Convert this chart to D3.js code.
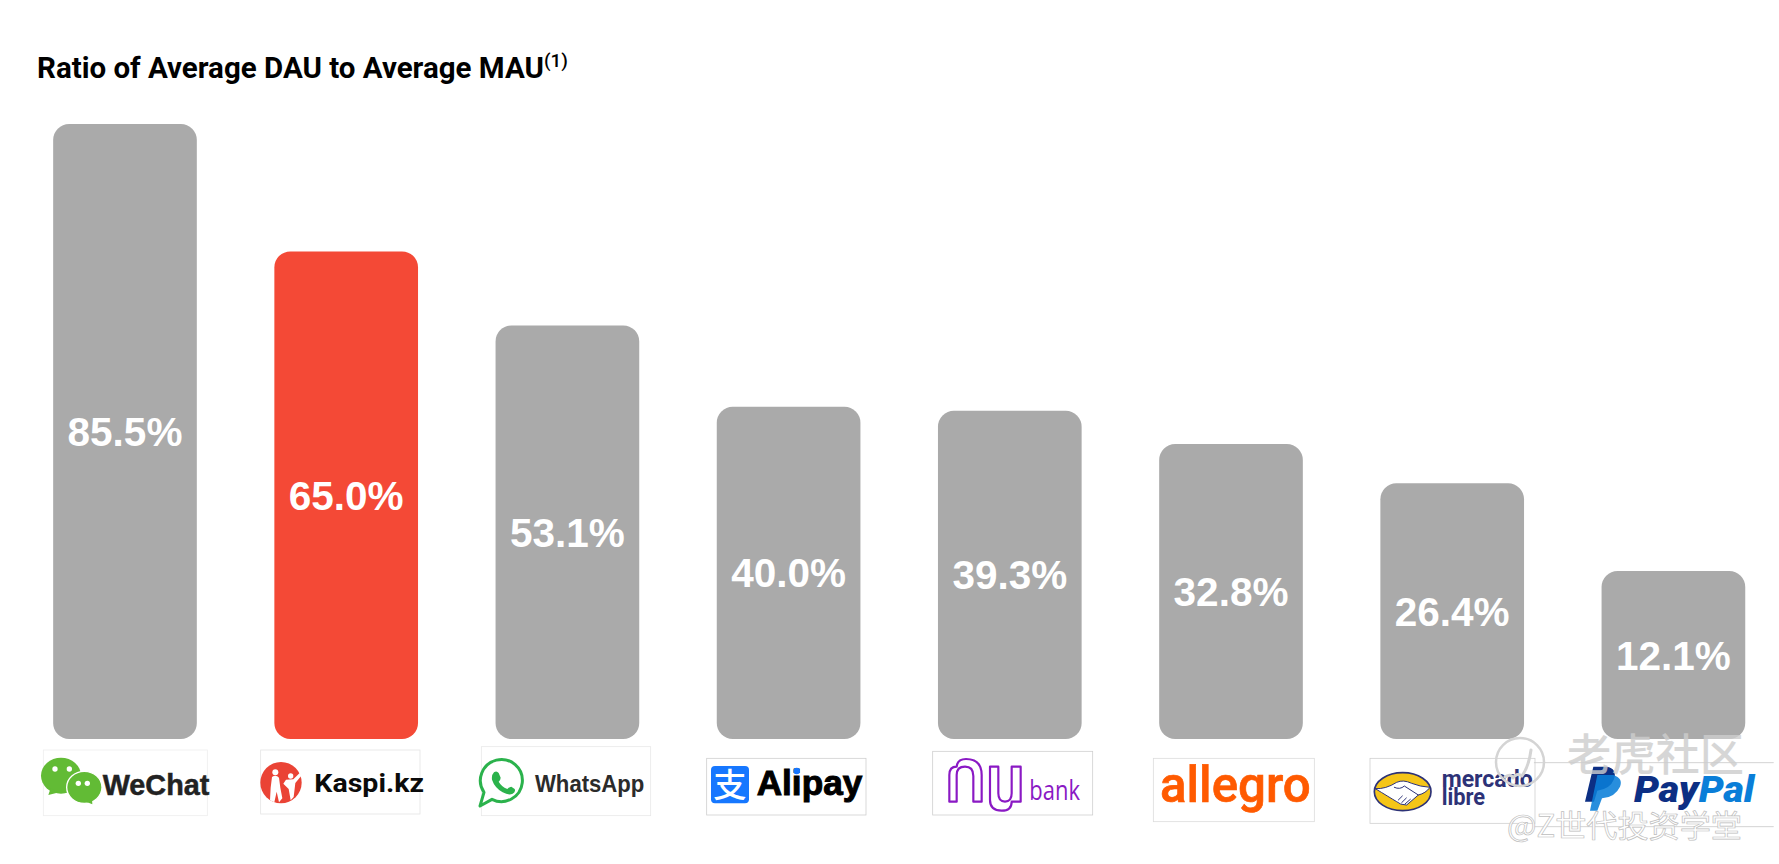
<!DOCTYPE html>
<html><head><meta charset="utf-8">
<script src="https://cdn.jsdelivr.net/npm/d3@7"></script>
<style>html,body{margin:0;padding:0;background:#fff;overflow:hidden}svg{display:block}</style>
</head><body><div id="chart"></div>
<script>
const categories=["WeChat","Kaspi.kz","WhatsApp","Alipay","Nubank","Allegro","Mercado Libre","PayPal"];
const values=[85.5,65.0,53.1,40.0,39.3,32.8,26.4,12.1];
const highlighted="Kaspi.kz";
const titleText="Ratio of Average DAU to Average MAU";
const titleNote="(1)";
const watermarkTop="老虎社区";
const watermarkBottom="@Z世代投资学堂";

const W=1779,H=864;
const svg=d3.select("#chart").append("svg").attr("width",W).attr("height",H).attr("viewBox",`0 0 ${W} ${H}`);
svg.append("rect").attr("width",W).attr("height",H).attr("fill","#fff");

const baseline=739;
const x=d3.scaleBand().domain(categories).range([14.4,1784]).paddingInner(0.3505).paddingOuter(0.1752);
// The source's bars are not proportional to their labels, so the scale has knots.
const y=d3.scaleLinear().domain([12.1,32.8,39.65,85.5]).range([571,444,409,124]);
const rows=categories.map((c,i)=>({c,v:values[i]}));

const title=svg.append("text").attr("x",37).attr("y",78).attr("font-family","Roboto").attr("font-weight",700).attr("font-size",29.5).attr("fill","#000");
title.append("tspan").text(titleText);
title.append("tspan").attr("font-size",19).attr("font-weight",500).attr("dy",-11).text(titleNote);

svg.append("g").selectAll("rect").data(rows).join("rect")
 .attr("x",d=>x(d.c)).attr("y",d=>y(d.v)).attr("width",x.bandwidth()).attr("height",d=>baseline-y(d.v))
 .attr("rx",16).attr("ry",16).attr("fill",d=>d.c===highlighted?"#F44936":"#AAAAAA");
svg.append("g").selectAll("text").data(rows).join("text")
 .attr("x",d=>x(d.c)+x.bandwidth()/2).attr("y",d=>(y(d.v)+baseline)/2).attr("dy","0.36em")
 .attr("text-anchor","middle").attr("font-family","Liberation Sans").attr("font-weight",700).attr("font-size",40.5).attr("fill","#fff")
 .text(d=>d.v.toFixed(1)+"%");

// Logos: each group is drawn at 3x local units
const logos=svg.append("g");
const logo=(ox,oy)=>logos.append("g").attr("transform",`translate(${ox},${oy}) scale(${1/3})`);
const box=(g,x0,y0,x1,y1,c)=>g.append("rect").attr("x",x0).attr("y",y0).attr("width",x1-x0).attr("height",y1-y0).attr("fill","#fff").attr("stroke",c).attr("stroke-width",2.4);
const txt=(g,s,x0,x1,yb,size,fill,weight,fam)=>g.append("text").attr("x",x0).attr("y",yb).attr("font-family",fam).attr("font-size",size).attr("font-weight",weight).attr("fill",fill).attr("textLength",x1-x0).attr("lengthAdjust","spacingAndGlyphs").text(s);
const path=(g,d,fill,stroke,sw)=>g.append("path").attr("d",d).attr("fill",fill||"none").attr("stroke",stroke||"none").attr("stroke-width",sw||0).attr("stroke-linejoin","round").attr("stroke-linecap","round");

// WeChat
let g=logo(30,745);
box(g,40,15,532,212,"#eeeeee");
g.append("ellipse").attr("cx",93).attr("cy",92).attr("rx",60).attr("ry",54).attr("fill","#62bb35");
path(g,"M62 130 L55 150 L88 142Z","#62bb35");
g.append("ellipse").attr("cx",163).attr("cy",127).attr("rx",53).attr("ry",48).attr("fill","#62bb35").attr("stroke","#fff").attr("stroke-width",4);
path(g,"M168 170 L187 178 L186 160Z","#62bb35");
[[75,72],[118,72],[145,115],[172,115]].forEach(p=>g.append("circle").attr("cx",p[0]).attr("cy",p[1]).attr("r",8).attr("fill","#fff"));
txt(g,"WeChat",218,538,149,90,"#222",700,"Liberation Sans").attr("stroke","#222").attr("stroke-width",1.5);

// Kaspi
g=logo(250,745);
box(g,32,15,510,207,"#e4e4e4");
g.append("circle").attr("cx",93).attr("cy",113).attr("r",62).attr("fill","#ea4335");
g.append("circle").attr("cx",76).attr("cy",82).attr("r",9).attr("fill","#fff");
g.append("circle").attr("cx",122).attr("cy",93).attr("r",8).attr("fill","#fff");
path(g,"M66 96 Q78 88 87 98 L91 128 L97 160 L87 172 L80 140 L73 172 L60 166 L62 128Z M108 104 L130 103 L149 84 L154 92 L136 114 L131 156 L122 166 L116 132 L100 116Z","#fff");
txt(g,"Kaspi.kz",193,522,140,77,"#0b0b0b",700,"Roboto");

// WhatsApp
g=logo(470,745);
box(g,34,5,542,212,"#e8e8e8");
path(g,"M30 183 L42 142 A63 63 0 1 1 66 163Z","#fff","#2bb24c",9);
path(g,"M72 82 Q80 76 86 84 L92 98 Q92 104 86 110 Q94 124 112 132 Q118 126 124 125 L134 132 Q138 140 128 146 Q116 152 98 142 Q74 128 66 104 Q64 90 72 82Z","#2bb24c");
txt(g,"WhatsApp",195,523,142,72,"#2b2b2b",700,"Liberation Sans");

// Alipay
g=logo(700,750);
box(g,20,25,498,195,"#cfcfcf");
g.append("rect").attr("x",33).attr("y",48).attr("width",114).attr("height",112).attr("rx",12).attr("fill","#1677ff");
g.append("text").attr("x",90).attr("y",140).attr("text-anchor","middle").attr("font-family","Noto Sans CJK SC").attr("font-weight",500).attr("font-size",100).attr("fill","#fff").text("支");
txt(g,"Alipay",170,487,135,106,"#000",700,"Liberation Sans").attr("stroke","#000").attr("stroke-width",3);
g.append("circle").attr("cx",290).attr("cy",63).attr("r",10).attr("fill","#1677ff");

// Nubank
g=logo(930,750);
box(g,8,4,488,195,"#cfcfcf");
path(g,"M58 155 H80 V75 Q80 50 105 50 Q130 50 130 78 V155 H155 V75 Q155 27 108 27 Q82 27 80 50 Q58 50 58 75Z",null,"#8a19c4",6.5);
path(g,"M180 50 H205 V130 Q205 155 225 155 Q245 155 245 130 V50 H272 V155 H245 Q245 182 215 182 Q180 182 180 150Z",null,"#8a19c4",6.5);
txt(g,"bank",298,450,150,84,"#8a19c4",400,"Open Sans");

// Allegro
g=logo(1145,750);
box(g,25,25,508,215,"#dcdcdc");
txt(g,"allegro",45,497,155,150,"#ff5a00",500,"Roboto").attr("stroke","#ff5a00").attr("stroke-width",2);

// Mercado Libre
g=logo(1365,750);
box(g,15,25,510,220,"#cfcfcf");
g.append("ellipse").attr("cx",113).attr("cy",125).attr("rx",85).attr("ry",57).attr("fill","#f5c518").attr("stroke","#2d3277").attr("stroke-width",5);
path(g,"M31 116 Q62 118 95 97 Q115 88 140 100 Q165 110 195 112 Q182 130 160 135 L125 165 Q105 165 95 155 Q70 140 31 116Z","#fff","#2d3277",3);
path(g,"M88 112 Q105 120 118 108 L160 135 M100 150 L112 138 M110 158 L124 144 M120 162 L136 148",null,"#2d3277",3);
txt(g,"mercado",230,503,110,72,"#2d3277",700,"Roboto");
txt(g,"libre",230,360,165,72,"#2d3277",700,"Roboto");

// PayPal
g=logo(1490,730);
path(g,"M133 98 H850 M133 290 H850",null,"#c8c8c8",2.4);
path(g,"M310 110 H350 Q382 115 372 148 Q360 178 322 182 L312 215 H285Z","#0c2f84");
path(g,"M322 135 H370 Q400 145 390 170 Q375 202 336 205 L322 242 H300Z","#0a7ed8").attr("opacity",0.88);
g.append("text").attr("x",432).attr("y",217).attr("font-family","Roboto").attr("font-style","italic").attr("font-weight",900).attr("font-size",108)
 .attr("textLength",361).attr("lengthAdjust","spacingAndGlyphs")
 .call(t=>{t.append("tspan").attr("fill","#0c2f84").text("Pay");t.append("tspan").attr("fill","#0a7ed8").text("Pal");});

// Watermark
const wm=svg.append("g");
wm.append("circle").attr("cx",1520).attr("cy",762).attr("r",24).attr("fill","none").attr("stroke","#d4d4d4").attr("stroke-width",2.5);
path(wm,"M1505 777 q6 -4 8 1 q4 -6 9 -2 q7 -10 9 -26",null,"#d4d4d4",3);
wm.append("text").attr("x",1567).attr("y",771).attr("font-family","Noto Sans CJK SC").attr("font-weight",500).attr("font-size",44).attr("textLength",177).attr("lengthAdjust","spacingAndGlyphs").attr("fill","#cdcdcd").attr("opacity",0.8).text(watermarkTop);
wm.append("text").attr("x",1507).attr("y",837).attr("font-family","Noto Sans CJK SC").attr("font-size",31).attr("textLength",235).attr("lengthAdjust","spacingAndGlyphs").attr("fill","#fff").attr("stroke","#bdbdbd").attr("stroke-width",0.7).text(watermarkBottom);
</script></body></html>
